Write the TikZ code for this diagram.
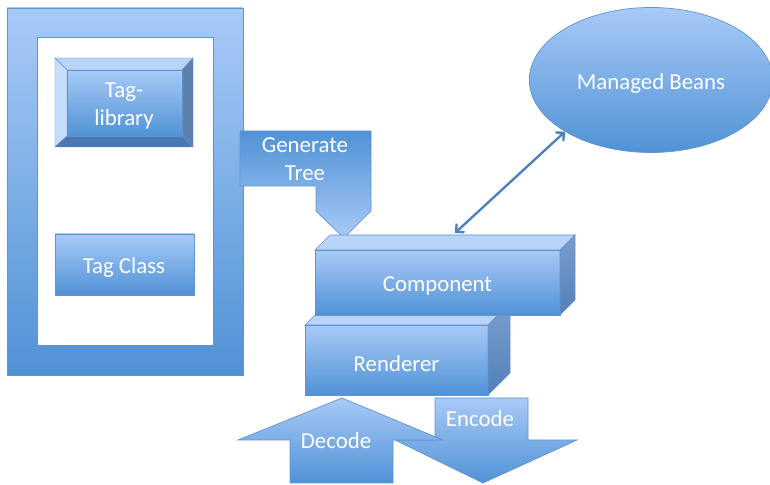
\documentclass[tikz,border=0pt]{standalone}
\usepackage{fontspec}
\setmainfont{Carlito}
\usepackage{tikz}
\usetikzlibrary{arrows.meta}
\usetikzlibrary{calc}
\usetikzlibrary{shapes.geometric}

\definecolor{lightfill}{RGB}{168,202,247}
\definecolor{darkfill}{RGB}{80,146,214}
\definecolor{edgeblue}{RGB}{96,148,206}
\definecolor{arrowblue}{RGB}{74,128,190}
\definecolor{topface}{RGB}{184,212,248}
\definecolor{sidelight}{RGB}{122,158,204}
\definecolor{sidedark}{RGB}{82,128,186}

\tikzset{
	blob/.style={top color=lightfill,bottom color=darkfill,draw=edgeblue,line width=0.6pt},
	flipblob/.style={top color=darkfill,bottom color=lightfill,draw=edgeblue,line width=0.6pt},
	caption/.style={text=white,font=\fontsize{19.5}{24}\selectfont,align=center,inner sep=0pt}
}

% 3D block: name, front top-left, front bottom-right, depth, text
\newcommand{\drawblock}[5]{
	\coordinate (#1-a) at #2;
	\coordinate (#1-b) at #3;
	\path[blob] (#1-a) rectangle (#1-b);
	\path[draw=edgeblue,fill=topface,line width=0.6pt] (#1-a) -- ++(#4,-#4) -- ($(#1-a -| #1-b)+(#4,-#4)$) -- (#1-a -| #1-b) -- cycle;
	\path[draw=edgeblue,top color=sidelight,bottom color=sidedark,line width=0.6pt] (#1-a -| #1-b) -- ++(#4,-#4) -- ($(#1-b)+(#4,-#4)$) -- (#1-b) -- cycle;
	\node[caption,yshift=-3pt] (#1) at ($(#1-a)!0.5!(#1-b)$) {#5};
}

\begin{document}
\begin{tikzpicture}[x=0.03cm,y=-0.03cm]
	\useasboundingbox (0,0) rectangle (770,485);

	% page frame with the tags
	\path[blob] (7,8) rectangle (243,375);
	\path[fill=white,draw=edgeblue,line width=0.6pt] (37,37) rectangle (213,345);

	% bevelled tag library button
	\path[fill=topface,draw=edgeblue,line width=0.4pt] (55,58) -- (193,58) -- (182,70) -- (67,70) -- cycle;
	\path[fill={rgb,255:red,198;green,222;blue,250},draw=edgeblue,line width=0.4pt] (55,58) -- (67,70) -- (67,136) -- (55,147) -- cycle;
	\path[fill={rgb,255:red,92;green,128;blue,172},draw=edgeblue,line width=0.4pt] (193,58) -- (193,147) -- (182,136) -- (182,70) -- cycle;
	\path[fill={rgb,255:red,74;green,120;blue,178},draw=edgeblue,line width=0.4pt] (55,147) -- (67,136) -- (182,136) -- (193,147) -- cycle;
	\path[blob,line width=0.4pt] (67,70) rectangle (182,136);
	\node[caption] (taglib) at (124,106) {Tag-\\library};

	\path[blob] (55,234) rectangle (194,295);
	\node[caption] (tagclass) at (124,268) {Tag Class};

	% generate tree callout
	\path[flipblob] (240,131) -- (371,131) -- (371,211) -- (344,238) -- (316,211) -- (316,186) -- (240,186) -- cycle;
	\node[caption] (gentree) at (305,159) {Generate\\Tree};

	% stacked blocks
	\drawblock{render}{(305,325)}{(488,395)}{22}{Renderer}
	\drawblock{comp}{(315,250)}{(560,315)}{15}{Component}
	\coordinate (comptop) at (455,233);

	% encode / decode arrows
	\path[blob] (435,398) -- (528,398) -- (528,440) -- (577,440) -- (483,483) -- (395,440) -- (435,440) -- cycle;
	\node[caption] (encode) at (480,419) {Encode};
	\path[blob] (342,398) -- (443,440) -- (393,440) -- (393,483) -- (290,483) -- (290,440) -- (238,440) -- cycle;
	\node[caption] (decode) at (336,441) {Decode};

	% managed beans
	\node[ellipse,blob,minimum width=7.3cm,minimum height=4.35cm,inner sep=0pt] (beans) at (651,80) {};
	\node[caption] (beanstext) at (651,84) {Managed Beans};
	\draw[arrowblue,line width=2pt,{Straight Barb[length=5pt,width=10pt]}-{Straight Barb[length=5pt,width=10pt]}] (beans.211) -- (comptop);
\end{tikzpicture}
\end{document}
